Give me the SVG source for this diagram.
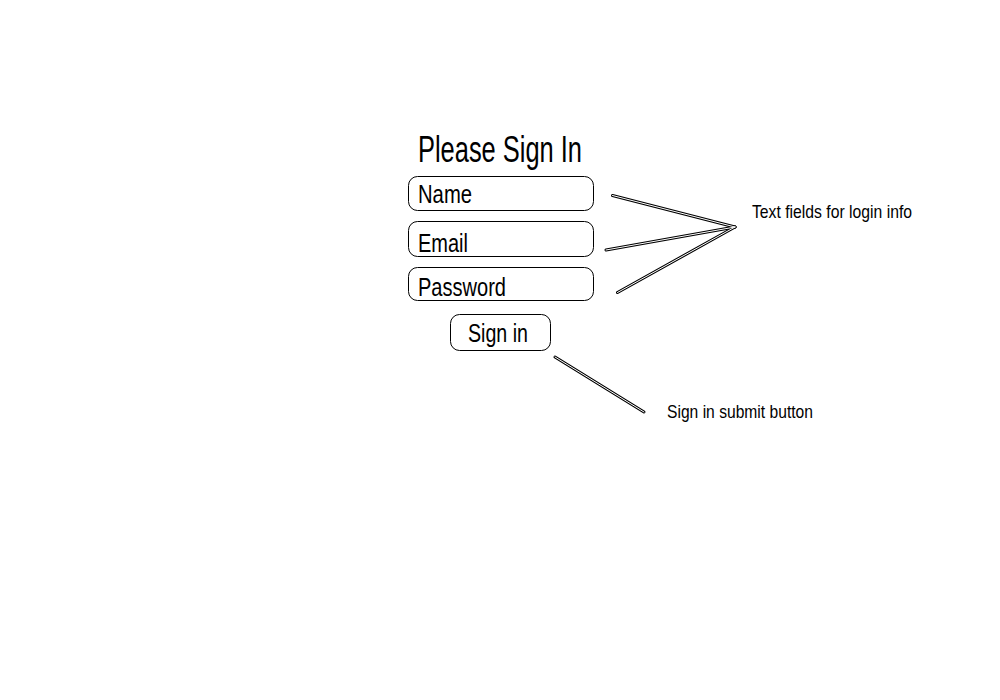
<svg xmlns="http://www.w3.org/2000/svg" width="1000" height="700" viewBox="0 0 1000 700">
<style>
.box{fill:#fff;stroke:#000;stroke-width:1}
.t{font-family:"Liberation Sans Narrow","Liberation Sans",Arial,sans-serif;fill:#000}
.outer{stroke:#000;stroke-width:3;stroke-linecap:round;fill:none}
.inner{stroke:#fff;stroke-width:1;stroke-linecap:round;fill:none}
</style>
<rect width="1000" height="700" fill="#fff"/>
<g id="title"><text class="t" x="418" y="162" font-size="37" textLength="164" lengthAdjust="spacingAndGlyphs">Please Sign In</text></g>
<g id="name-field"><rect class="box" x="408.5" y="176.5" width="185" height="34" rx="9"/><text class="t" x="418" y="203" font-size="26" textLength="54" lengthAdjust="spacingAndGlyphs">Name</text></g>
<g id="email-field"><rect class="box" x="408.5" y="221.5" width="185" height="35" rx="9"/><text class="t" x="418" y="252" font-size="26" textLength="50" lengthAdjust="spacingAndGlyphs">Email</text></g>
<g id="password-field"><rect class="box" x="408.5" y="267.5" width="185" height="33" rx="9"/><text class="t" x="418" y="296" font-size="26" textLength="88" lengthAdjust="spacingAndGlyphs">Password</text></g>
<g id="signin-button"><rect class="box" x="450.5" y="314.5" width="100" height="36" rx="9"/><text class="t" x="468" y="342" font-size="26" textLength="60" lengthAdjust="spacingAndGlyphs">Sign in</text></g>
<g id="label-fields"><text class="t" x="752" y="218" font-size="19" textLength="160" lengthAdjust="spacingAndGlyphs">Text fields for login info</text></g>
<g id="label-button"><text class="t" x="667" y="418" font-size="19" textLength="146" lengthAdjust="spacingAndGlyphs">Sign in submit button</text></g>
<g id="connectors">
<g class="outer">
<line x1="612.5" y1="195.5" x2="735" y2="227"/>
<line x1="606" y1="250" x2="735" y2="227"/>
<line x1="617.5" y1="292.5" x2="735" y2="227"/>
<line x1="555" y1="357" x2="644" y2="412"/>
</g>
<g class="inner">
<line x1="612.5" y1="195.5" x2="735" y2="227"/>
<line x1="606" y1="250" x2="735" y2="227"/>
<line x1="617.5" y1="292.5" x2="735" y2="227"/>
<line x1="555" y1="357" x2="644" y2="412"/>
</g>
</g>
</svg>
